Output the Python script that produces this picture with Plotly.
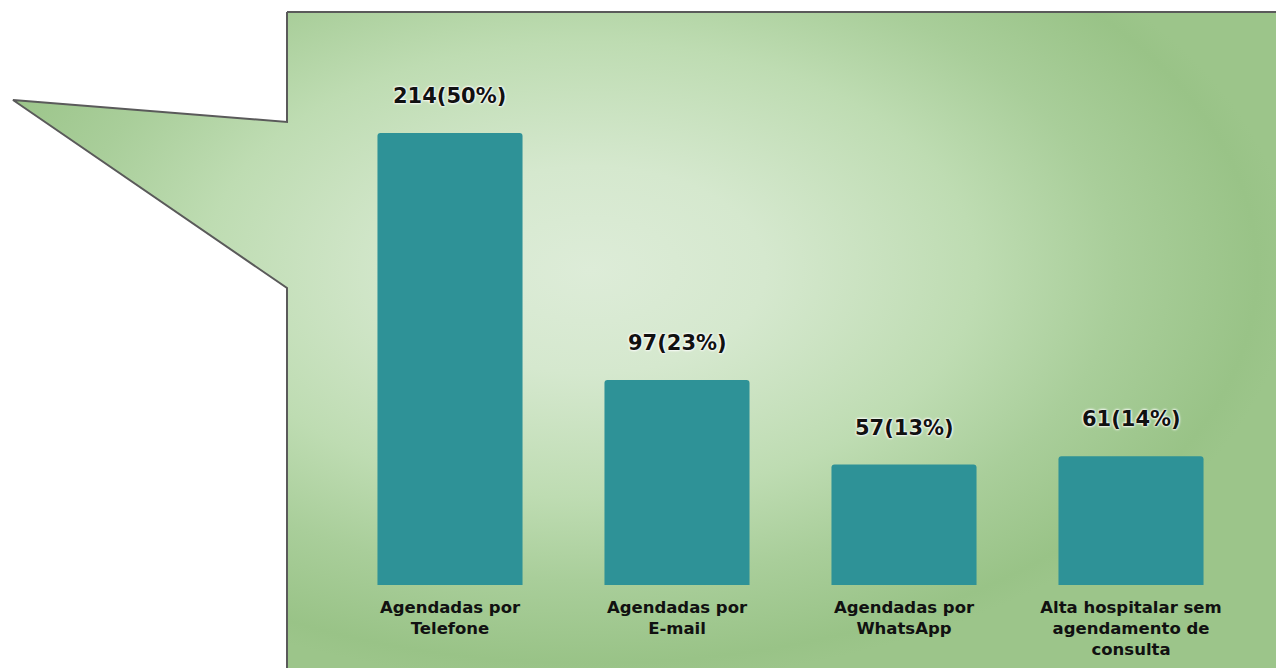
import plotly.graph_objects as go

categories = ["Agendadas por<br>Telefone", "Agendadas por<br>E-mail",
              "Agendadas por<br>WhatsApp", "Alta hospitalar sem<br>agendamento de<br>consulta"]
values = [214, 97, 57, 61]
percents = [50, 23, 13, 14]
labels = [f"{v}({p}%)" for v, p in zip(values, percents)]

W, H = 1276, 668
# background callout polygon outline (pixel coords)
poly_x = [287, 1292, 1292, 287, 287, 13, 287, 287]
poly_y = [12, 12, 684, 684, 288, 100, 122, 12]
# fill polygon: same shape plus zero-area spikes that move the gradient centre
fill_x = [287, -112, 287, 700, 700, 1292, 1292, 287, 287, 13, 287, 287]
fill_y = [12, 12, 12, 12, -144, 12, 684, 684, 288, 100, 122, 12]
fill_x = [287, -112, 287, 700, 700, 700, 1292, 1292, 287, 287, 13, 287, 287]
fill_y = [12, 12, 12, 12, -144, 12, 12, 684, 684, 288, 100, 122, 12]

fig = go.Figure()
fig.add_trace(go.Scatter(
    x=fill_x, y=fill_y, mode="lines", fill="toself",
    line=dict(width=0, color="rgba(0,0,0,0)"),
    fillgradient=dict(type="radial",
                      colorscale=[[0, "#ddecd8"], [0.25, "#d5e8ce"], [0.55, "#bedcb2"],
                                  [0.75, "#a9ce9a"], [0.95, "#99c387"], [1, "#9cc58a"]]),
    hoverinfo="skip", showlegend=False, xaxis="x", yaxis="y"))
fig.add_trace(go.Scatter(
    x=poly_x, y=poly_y, mode="lines",
    line=dict(color="#5a5a5a", width=2),
    hoverinfo="skip", showlegend=False, xaxis="x", yaxis="y"))

fig.add_trace(go.Bar(
    x=categories, y=values, marker=dict(color="#2e9297", cornerradius=3, line=dict(width=0)),
    xaxis="x2", yaxis="y2", showlegend=False, hoverinfo="skip"))

for c, v, t in zip(categories, values, labels):
    fig.add_annotation(x=c, y=v, xref="x2", yref="y2", text=f"<b>{t}</b>",
                       showarrow=False, yanchor="middle", yshift=37,
                       font=dict(family="DejaVu Sans", size=21, color="#111111",
                                 shadow="0px 0px 2px white, 0px 0px 3px white, 0px 0px 3px white"))

fig.update_layout(
    width=W, height=H, margin=dict(l=0, r=0, t=0, b=0),
    paper_bgcolor="white", plot_bgcolor="rgba(0,0,0,0)",
    bargap=0.361,
    xaxis=dict(domain=[0, 1], range=[0, W], visible=False, fixedrange=True),
    yaxis=dict(domain=[0, 1], range=[H, 0], visible=False, fixedrange=True),
    xaxis2=dict(domain=[336.5 / W, 1244.5 / W], range=[-0.5, 3.5], anchor="y2",
                showgrid=False, showline=False, zeroline=False, ticks="",
                ticklabelstandoff=10,
                tickfont=dict(family="DejaVu Sans", size=16.5, color="#111111",
                              weight="bold", lineposition="none")),
    yaxis2=dict(domain=[(H - 585) / H, (H - 40) / H], range=[0, 258], anchor="x2",
                visible=False, showgrid=False, zeroline=False),
)
fig.write_html("out.html", config={"displayModeBar": False},
               post_script="document.body.style.margin='0';document.body.style.overflow='hidden';")
